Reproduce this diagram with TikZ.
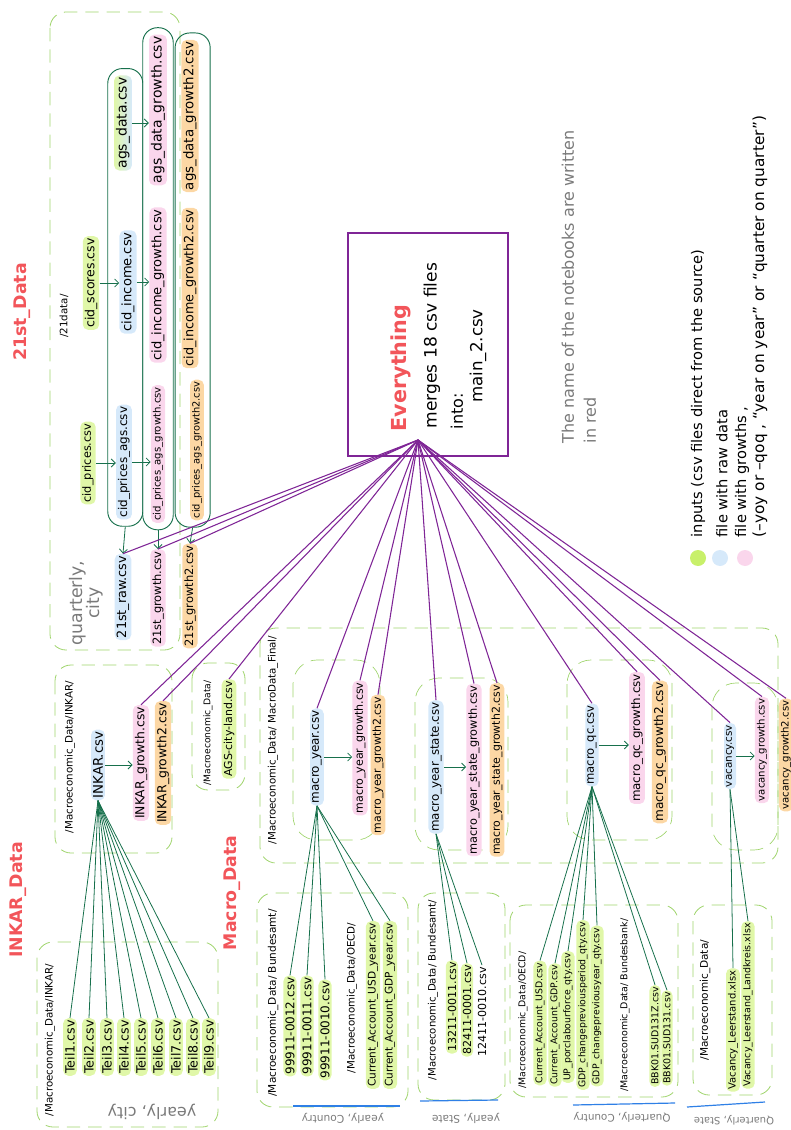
\documentclass[tikz,border=0pt]{standalone}
\usepackage{fontspec}
\setmainfont{DejaVu Sans}
\usetikzlibrary{fit,arrows.meta}

\definecolor{infill}{HTML}{E0F7A8}
\definecolor{rawfill}{HTML}{D6E9FA}
\definecolor{grofill}{HTML}{FAD6EC}
\definecolor{grotwofill}{HTML}{FCD7A4}
\definecolor{linkgreen}{HTML}{17704C}
\definecolor{boxgreen}{HTML}{9FD46C}
\definecolor{mergepurple}{HTML}{7F2596}
\definecolor{titlered}{HTML}{F2555A}
\definecolor{hintgrey}{HTML}{7A7A7A}
\definecolor{lineblue}{HTML}{2F80E6}
\definecolor{keygreen}{HTML}{C8F06A}

\begin{document}
\begin{tikzpicture}[x=0.75pt, y=-0.75pt,
        fs/.style={font=\fontsize{#1}{#1}\selectfont},
        csvfile/.style={rotate=90, inner sep=1.5pt, rounded corners=4pt},
        infile/.style={csvfile, fill=infill},
        rawfile/.style={csvfile, fill=rawfill},
        grofile/.style={csvfile, fill=grofill},
        grotwofile/.style={csvfile, fill=grotwofill},
        dirtext/.style={rotate=90, inner sep=1pt, fs=7.7},
        ttl/.style={rotate=90, text=titlered, font=\bfseries\fontsize{13}{13}\selectfont},
        hint/.style={text=hintgrey},
        grp/.style={draw=boxgreen, line width=0.6pt, dash pattern=on 10pt off 6pt, rounded corners=12pt},
        subgrp/.style={grp, line width=0.5pt, rounded corners=18pt},
        col/.style={draw=linkgreen, line width=0.7pt, rounded corners=11pt, inner xsep=4.5pt, inner ysep=5pt},
        feed/.style={draw=linkgreen, line width=0.6pt},
        nxt/.style={feed, -{Straight Barb[length=3pt,width=6pt]}},
        merge/.style={draw=mergepurple, line width=0.8pt},
        evbox/.style={draw=mergepurple, line width=1pt, minimum width=120pt, minimum height=167pt},
        dot/.style={circle, minimum size=12pt, inner sep=0pt},
        underline/.style={draw=lineblue, line width=0.9pt}
    ]
    \useasboundingbox (0,0) rectangle (791,1130);
    \clip (0,0) rectangle (791,1130);

    % group outlines
    \draw[grp] (50,12) rectangle (180,650);
    \draw[grp] (55,665) rectangle (172,853);
    \draw[grp] (37,942) rectangle (218,1127);
    \draw[grp] (192,663) rectangle (245,790);
    \draw[grp] (260,628) rectangle (778,863);
    \draw[subgrp] (293,660) rectangle (380,840);
    \draw[subgrp] (415,678) rectangle (508,850);
    \draw[subgrp] (567,660) rectangle (672,840);
    \draw[subgrp] (712,683) rectangle (778,850);
    \draw[grp] (257,893) rectangle (408,1107);
    \draw[grp] (418,893) rectangle (505,1100);
    \draw[grp] (510,905) rectangle (678,1097);
    \draw[grp] (693,905) rectangle (772,1095);

    % 21st_Data
    \node[ttl] (tfirst) at (22,312) {21st\_Data};
    \node[dirtext] (dfirst) at (64,316) {/21data/};
    \node[hint, rotate=90, fs=13, align=center] (qcity) at (86,603) {quarterly,\\city};
    \node[infile, fs=9.4] (cidscores) at (91,283) {cid\_scores.csv};
    \node[infile, fs=8.5] (cidprices) at (88,463) {cid\_prices.csv};
    \node[csvfile, fs=10.5, left color=infill, right color=rawfill] (agsdata) at (123,123) {ags\_data.csv};
    \node[rawfile, fs=9.8] (cidincome) at (128,282) {cid\_income.csv};
    \node[rawfile, fs=9] (cidpricesags) at (124,462) {cid\_prices\_ags.csv};
    \node[grofile, fs=10.5] (agsgro) at (158,110) {ags\_data\_growth.csv};
    \node[grofile, fs=9.8] (cidincgro) at (158,285) {cid\_income\_growth.csv};
    \node[grofile, fs=7.6] (cidpricesgro) at (158,454) {cid\_prices\_ags\_growth.csv};
    \node[grotwofile, fs=10] (agsgrotwo) at (190,116) {ags\_data\_growth2.csv};
    \node[grotwofile, fs=9.6] (cidincgrotwo) at (190,288) {cid\_income\_growth2.csv};
    \node[grotwofile, fs=7.4] (cidpricesgrotwo) at (197,450) {cid\_prices\_ags\_growth2.csv};
    \node[rawfile, fs=9.6] (rawout) at (123,597) {21st\_raw.csv};
    \node[grofile, fs=8.6] (groout) at (158,598) {21st\_growth.csv};
    \node[grotwofile, fs=8.6] (grotwoout) at (190,596) {21st\_growth2.csv};

    \node[col, fit=(agsdata)(cidincome)(cidpricesags)] (colraw) {};
    \node[col, fit=(agsgro)(cidincgro)(cidpricesgro)] (colgro) {};
    \node[col, fit=(agsgrotwo)(cidincgrotwo)(cidpricesgrotwo)] (colgrotwo) {};

    \draw[nxt] (cidscores.south) -- (cidscores.south -| cidincome.north);
    \draw[nxt] (cidincome.south) -- (cidincome.south -| cidincgro.north);
    \draw[nxt] (agsdata.south) -- (agsdata.south -| agsgro.north);
    \draw[nxt] (cidprices.south) -- (cidprices.south -| cidpricesags.north);
    \draw[nxt] (cidpricesags.south) -- (cidpricesags.south -| cidpricesgro.north);
    \draw[nxt] (colraw.south) -- (rawout.east);
    \draw[nxt] (colgro.south) -- (groout.east);
    \draw[nxt] (colgrotwo.south) -- (grotwoout.east);

    % INKAR_Data
    \node[ttl] (tinkar) at (18,900) {INKAR\_Data};
    \node[dirtext] (dinkar) at (70,757) {/Macroeconomic\_Data/INKAR/};
    \node[rawfile, fs=10] (inkar) at (98,765) {INKAR.csv};
    \node[grofile, fs=9.3] (inkargro) at (141,763) {INKAR\_growth.csv};
    \node[grotwofile, fs=9.3] (inkargrotwo) at (163,763) {INKAR\_growth2.csv};
    \draw[nxt] (inkar.south) -- (inkar.south -| inkargro.north);

    \node[dirtext] (dteil) at (50,1040) {/Macroeconomic\_Data/INKAR/};
    \foreach \i/\x in {1/70,2/89,3/107,4/124,5/141,6/158,7/176,8/193,9/209}
        \node[infile, fs=9.5] (teil\i) at (\x,1047) {Teil\i.csv};
    \foreach \i in {1,...,9}
        \draw[feed] (inkar.west) -- (teil\i.east);
    \node[hint, rotate=180, fs=12] (ycity) at (152,1112) {yearly, city};

    \node[dirtext, fs=6.9] (dags) at (208,733) {/Macroeconomic\_Data/};
    \node[infile, fs=8.2] (agsland) at (229,729) {AGS-city-land.csv};

    % Macro_Data
    \node[ttl] (tmacro) at (232,893) {Macro\_Data};
    \node[dirtext] (dfinal) at (273,740) {/Macroeconomic\_Data/ MacroData\_Final/};

    \node[rawfile, fs=9] (my) at (317,757) {macro\_year.csv};
    \node[grofile, fs=8.3] (mygro) at (360,748) {macro\_year\_growth.csv};
    \node[grotwofile, fs=8.2] (mygrotwo) at (378,765) {macro\_year\_growth2.csv};
    \node[rawfile, fs=8.9] (mys) at (436,767) {macro\_year\_state.csv};
    \node[grofile, fs=8.5] (mysgro) at (474,770) {macro\_year\_state\_growth.csv};
    \node[grotwofile, fs=8.2] (mysgrotwo) at (497,770) {macro\_year\_state\_growth2.csv};
    \node[rawfile, fs=8.7] (mqc) at (592,745) {macro\_qc.csv};
    \node[grofile, fs=8.9] (mqcgro) at (637,738) {macro\_qc\_growth.csv};
    \node[grotwofile, fs=9.1] (mqcgrotwo) at (660,752) {macro\_qc\_growth2.csv};
    \node[rawfile, fs=7.8] (vac) at (730,756) {vacancy.csv};
    \node[grofile, fs=7.6] (vacgro) at (762,750) {vacancy\_growth.csv};
    \node[grotwofile, fs=7.6] (vacgrotwo) at (786,755) {vacancy\_growth2.csv};

    \draw[nxt] (my.south) -- (my.south -| mygro.north);
    \draw[nxt] (mys.south) -- (mys.south -| mysgro.north);
    \draw[nxt] (mqc.south) -- (mqc.south -| mqcgro.north);
    \draw[nxt] (vac.south) -- (vac.south -| vacgro.north);

    % yearly, country
    \node[dirtext, fs=7.9] (dbund) at (273,1003) {/Macroeconomic\_Data/ Bundesamt/};
    \node[infile, fs=9] (ba) at (290,1026) {99911-0012.csv};
    \node[infile, fs=9] (bb) at (307,1026) {99911-0011.csv};
    \node[infile, fs=9] (bc) at (325,1030) {99911-0010.csv};
    \node[dirtext] (doecd) at (352,998) {/Macroeconomic\_Data/OECD/};
    \node[infile, fs=7.9] (oa) at (373,1005) {Current\_Account\_USD\_year.csv};
    \node[infile, fs=7.9] (ob) at (390,1005) {Current\_Account\_GDP\_year.csv};
    \foreach \n in {ba,bb,bc,oa,ob}
        \draw[feed] (my.west) -- (\n.east);
    \node[hint, rotate=180, fs=8] (ycountry) at (343,1118) {yearly, Country};
    \draw[underline] (293,1106) -- (400,1106);

    % yearly, state
    \node[dirtext, fs=7.6] (dbundst) at (433,990) {/Macroeconomic\_Data/ Bundesamt/};
    \node[infile, fs=8.3] (sa) at (452,1007) {13211-0011.csv};
    \node[infile, fs=8.3] (sb) at (467,1010) {82411-0001.csv};
    \node[csvfile, fs=8.3] (sc) at (482,1012) {12411-0010.csv};
    \foreach \n in {sa,sb,sc}
        \draw[feed] (mys.west) -- (\n.east);
    \node[hint, rotate=180, fs=8] (ystate) at (466,1118) {yearly, State};
    \draw[underline] (420,1101) -- (498,1100);

    % quarterly, country
    \node[dirtext, fs=7] (doecdq) at (523,1020) {/Macroeconomic\_Data/OECD/};
    \node[infile, fs=7] (qa) at (540,1023) {Current\_Account\_USD.csv};
    \node[infile, fs=7] (qb) at (555,1025) {Current\_Account\_GDP.csv};
    \node[infile, fs=7] (qc) at (568,1017) {UP\_porclabourforce\_qty.csv};
    \node[infile, fs=7] (qd) at (583,1005) {GDP\_changepreviousperiod\_qty.csv};
    \node[infile, fs=7] (qe) at (597,1006) {GDP\_changepreviousyear\_qty.csv};
    \node[dirtext, fs=7.1] (dbank) at (625,1005) {/Macroeconomic\_Data/ Bundesbank/};
    \node[infile, fs=7.1] (qf) at (655,1036) {BBK01.SUD131Z.csv};
    \node[infile, fs=7.1] (qg) at (667,1038) {BBK01.SUD131.csv};
    \foreach \n in {qa,qb,qc,qd,qe,qf,qg}
        \draw[feed] (mqc.west) -- (\n.east);
    \node[hint, rotate=180, fs=7.8] (qcountry) at (622,1117) {Quarterly, Country};
    \draw[underline] (573,1105) -- (675,1103);

    % quarterly, state
    \node[dirtext, fs=7.9] (dvac) at (705,1000) {/Macroeconomic\_Data/};
    \node[infile, fs=7.5] (va) at (733,1030) {Vacancy\_Leerstand.xlsx};
    \node[infile, fs=7.1] (vb) at (748,1005) {Vacancy\_Leerstand\_Landkreis.xlsx};
    \foreach \n in {va,vb}
        \draw[feed] (vac.west) -- (\n.east);
    \node[hint, rotate=180, fs=7.5] (qstate) at (734,1120) {Quarterly, State};
    \draw[underline] (687,1107) -- (765,1102);

    % Everything
    \node[evbox] (everything) at (428,344.5) {};
    \node[ttl, font=\bfseries\fontsize{15.5}{15.5}\selectfont] (tevery) at (401,368) {Everything};
    \node[rotate=90, anchor=west, fs=12.8] (evmerge) at (432,433) {merges 18 csv files};
    \node[rotate=90, anchor=west, fs=12] (evinto) at (457,434) {into:};
    \node[rotate=90, fs=12.5] (evmain) at (478,356) {main\_2.csv};
    \coordinate (hub) at (418,440);
    \foreach \n in {rawout,groout,grotwoout,inkargro,inkargrotwo,agsland,my,mygro,mygrotwo,mys,mysgro,mysgrotwo,mqc,mqcgro,mqcgrotwo,vac,vacgro,vacgrotwo}
        \draw[merge] (hub) -- (\n.east);

    % notes and key
    \node[hint, rotate=90, anchor=west, fs=12] (note) at (568,448) {The name of the notebooks are written};
    \node[hint, rotate=90, anchor=west, fs=12] (notered) at (590,448) {in red};
    \node[dot, fill=keygreen] (keyin) at (698,558) {};
    \node[dot, fill=rawfill] (keyraw) at (720,558) {};
    \node[dot, fill=grofill] (keygro) at (745,558) {};
    \node[rotate=90, anchor=west, fs=11] (txtin) at (698,542) {inputs (csv files direct from the source)};
    \node[rotate=90, anchor=west, fs=11] (txtraw) at (722,542) {file with raw data};
    \node[rotate=90, anchor=west, fs=11] (txtgro) at (742,542) {file with growths ,};
    \node[rotate=90, anchor=west, fs=11.5] (txtsuf) at (760,542) {(–yoy or –qoq , “year on year” or “quarter on quarter”)};
\end{tikzpicture}
\end{document}
